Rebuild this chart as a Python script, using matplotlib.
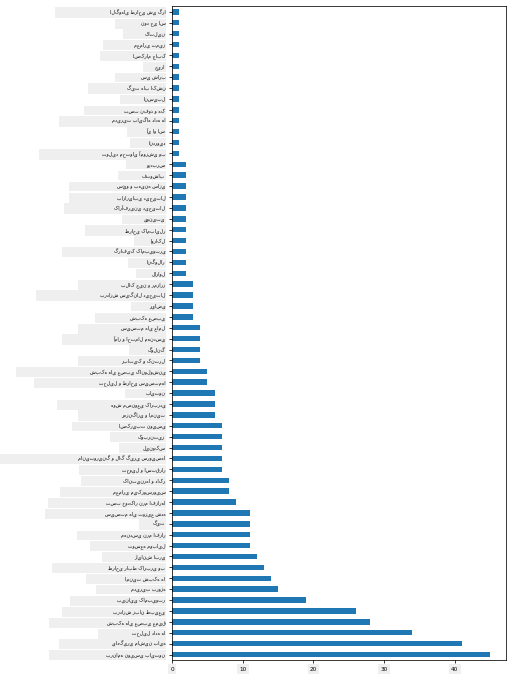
import matplotlib
matplotlib.use('Agg')
import matplotlib.pyplot as plt
from matplotlib.path import Path

# topics sorted by count, largest first (drawn at the bottom, like value_counts().plot.barh)
topics = [
    "برنامه نویسی پایتون", "یادگیری ماشین پایه", "تحلیل داده ها", "شبکه های عصبی عمیق",
    "پردازش زبان طبیعی", "بینایی کامپیوتر", "مدیریت پروژه", "امنیت شبکه ها",
    "طراحی رابط کاربری وب", "رایانش ابری", "توسعه موبایل", "مهندسی نرم افزار",
    "گیت", "سیستم های توزیع شده", "تست خودکار نرم افزارها", "معماری میکروسرویس",
    "کانتینرها و داکر", "تحویل و استقرار", "مانیتورینگ و لاگ گیری سرویسها", "لینوکس",
    "کوبرنتیز", "اسکریپت نویسی", "رمزنگاری و امنیت", "هوش مصنوعی کاربردی",
    "پایتون", "تحلیل و طراحی سیستمها", "شبکه های عصبی کانولوشنی", "رباتیک و کنترل",
    "گولنگ", "آمار و احتمال مهندسی", "سیستم های عامل", "شبکه عصبی",
    "ریاضی", "پردازش سیگنال دیجیتال", "بلاک چین و رمزارز", "لاراول",
    "انگولار", "گرافیک کامپیوتری", "اوراکل", "طراحی کامپایلر",
    "یونیتی", "کارآفرینی دیجیتال", "بازاریابی دیجیتال", "سئو و بهینه سازی",
    "فتوشاپ", "وردپرس", "تولید محتوای آموزشی وب", "اندروید",
    "آی او اس", "مدیریت پایگاه داده ها", "تست نفوذ و هک", "انسیبل",
    "گیت هاب اکشن", "سی شارپ", "جیرا", "اسکرام چابک",
    "معماری تمیز", "کاتلین", "نود جی اس", "الگوهای طراحی شی گرا",
]
counts = [45, 41, 34, 28, 26, 19, 15, 14, 13, 12,
          11, 11, 11, 11, 9, 8, 8, 7, 7, 7,
          7, 7, 6, 6, 6, 5, 5, 4, 4, 4,
          4, 3, 3, 3, 3, 2, 2, 2, 2, 2,
          2, 2, 2, 2, 2, 2, 1, 1, 1, 1,
          1, 1, 1, 1, 1, 1, 1, 1, 1, 1]
xticks = [0, 10, 20, 30, 40]


def label_box(x0, y0, width, height, mutation_size):
    # grey box behind the tick label, stretched out to the left
    vpad = 0.45 * mutation_size
    left = x0 - 0.95 * width - 0.4 * mutation_size
    right = x0 + width + 0.15 * mutation_size
    bottom = y0 - vpad
    top = y0 + height + vpad
    return Path([(left, bottom), (right, bottom), (right, top), (left, top), (left, bottom)],
                closed=True)


fig = plt.figure(figsize=(7.5, 10), dpi=68.3)
ax = fig.add_axes([0.336, 0.0337, 0.652, 0.957])

ax.barh(range(len(counts)), counts, height=0.5, color='#1f77b4')
ax.set_ylim(-0.5, len(counts) - 0.5)
ax.set_yticks(range(len(topics)))
ax.set_yticklabels(topics, fontsize=5)
ax.set_xticks(xticks)
ax.set_xticklabels([str(t) for t in xticks], fontsize=6)

for lbl in ax.get_yticklabels():
    lbl.set_bbox(dict(boxstyle=label_box, facecolor='#efefef', edgecolor='none'))
for lbl in ax.get_xticklabels():
    lbl.set_bbox(dict(boxstyle='square,pad=0.4', facecolor='#efefef', edgecolor='none'))

fig.savefig('out.png', dpi=68.3)
